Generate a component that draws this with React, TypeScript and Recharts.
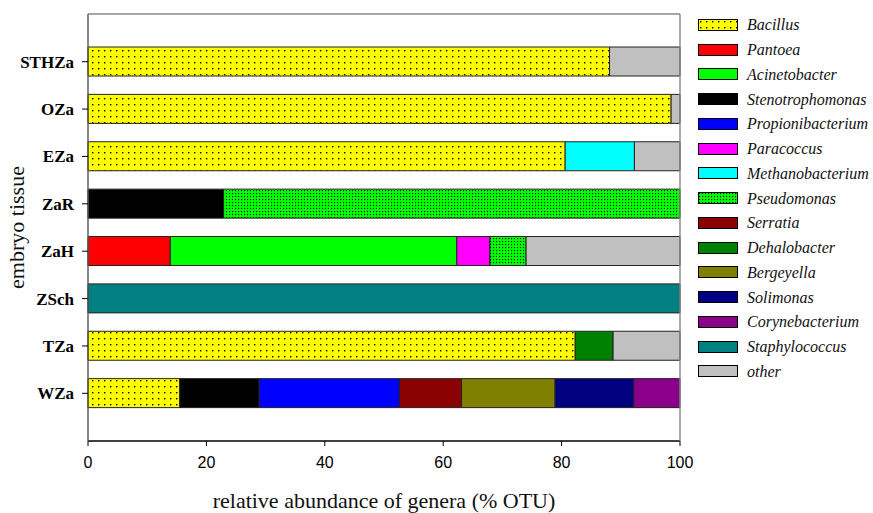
import { BarChart, Bar, XAxis, YAxis, Legend } from 'recharts';

const tissues = ['STHZa', 'OZa', 'EZa', 'ZaR', 'ZaH', 'ZSch', 'TZa', 'WZa'];

const genera = [
  'Bacillus',
  'Pantoea',
  'Acinetobacter',
  'Stenotrophomonas',
  'Propionibacterium',
  'Paracoccus',
  'Methanobacterium',
  'Pseudomonas',
  'Serratia',
  'Dehalobacter',
  'Bergeyella',
  'Solimonas',
  'Corynebacterium',
  'Staphylococcus',
  'other',
];

// % OTU per tissue, same order as tissues
const bacillus = [88.1, 98.5, 80.6, 0, 0, 0, 82.3, 15.5];
const pantoea = [0, 0, 0, 0, 13.9, 0, 0, 0];
const acinetobacter = [0, 0, 0, 0, 48.4, 0, 0, 0];
const stenotrophomonas = [0, 0, 0, 22.9, 0, 0, 0, 13.4];
const propionibacterium = [0, 0, 0, 0, 0, 0, 0, 23.7];
const paracoccus = [0, 0, 0, 0, 5.6, 0, 0, 0];
const methanobacterium = [0, 0, 11.7, 0, 0, 0, 0, 0];
const pseudomonas = [0, 0, 0, 77.1, 6.1, 0, 0, 0];
const serratia = [0, 0, 0, 0, 0, 0, 0, 10.5];
const dehalobacter = [0, 0, 0, 0, 0, 0, 6.4, 0];
const bergeyella = [0, 0, 0, 0, 0, 0, 0, 15.8];
const solimonas = [0, 0, 0, 0, 0, 0, 0, 13.3];
const corynebacterium = [0, 0, 0, 0, 0, 0, 0, 7.8];
const staphylococcus = [0, 0, 0, 0, 0, 100, 0, 0];
const other = [11.9, 1.5, 7.7, 0, 26.0, 0, 11.3, 0];

const seriesValues = [
  bacillus,
  pantoea,
  acinetobacter,
  stenotrophomonas,
  propionibacterium,
  paracoccus,
  methanobacterium,
  pseudomonas,
  serratia,
  dehalobacter,
  bergeyella,
  solimonas,
  corynebacterium,
  staphylococcus,
  other,
];

const xTicks = [0, 20, 40, 60, 80, 100];

const fills: Record<string, string> = {
  Bacillus: 'url(#bacillusDots)',
  Pantoea: '#ff0000',
  Acinetobacter: '#00ff00',
  Stenotrophomonas: '#000000',
  Propionibacterium: '#0000ff',
  Paracoccus: '#ff00ff',
  Methanobacterium: '#00ffff',
  Pseudomonas: 'url(#pseudomonasDots)',
  Serratia: '#8b0000',
  Dehalobacter: '#008000',
  Bergeyella: '#808000',
  Solimonas: '#000080',
  Corynebacterium: '#8b008b',
  Staphylococcus: '#008080',
  other: '#c0c0c0',
};

const data = tissues.map((tissue, i) => {
  const row: Record<string, string | number> = { tissue };
  genera.forEach((g, k) => {
    row[g] = seriesValues[k][i];
  });
  return row;
});

const serif = '"Liberation Serif", "DejaVu Serif", serif';

function Patterns() {
  return (
    <svg width={0} height={0} style={{ position: 'absolute' }}>
      <defs>
        <pattern id="bacillusDots" patternUnits="userSpaceOnUse" width={6} height={6}>
          <rect width={6} height={6} fill="#ffff00" />
          <rect x={2} y={2} width={1.4} height={1.4} fill="#000" />
        </pattern>
        <pattern id="pseudomonasDots" patternUnits="userSpaceOnUse" width={3} height={3}>
          <rect width={3} height={3} fill="#00ff00" />
          <rect x={1} y={1} width={1.1} height={1.1} fill="#000" />
        </pattern>
      </defs>
    </svg>
  );
}

function LegendBox() {
  return (
    <div style={{ width: 175, overflow: 'hidden' }}>
      {genera.map((g) => (
        <div
          key={g}
          style={{ height: 24.75, display: 'flex', alignItems: 'center', whiteSpace: 'nowrap' }}
        >
          <svg width={40} height={13} style={{ flex: 'none' }}>
            <rect x={0.5} y={0.5} width={39} height={11} fill={fills[g]} stroke="#000" strokeWidth={1} />
          </svg>
          <span
            style={{
              marginLeft: 9,
              fontFamily: serif,
              fontStyle: 'italic',
              fontSize: 16,
              color: '#111',
            }}
          >
            {g}
          </span>
        </div>
      ))}
    </div>
  );
}

function YTitle(props: any) {
  const { viewBox } = props;
  const cx = viewBox.x + 24;
  const cy = viewBox.y + viewBox.height / 2;
  return (
    <text
      x={cx}
      y={cy}
      transform={`rotate(-90 ${cx} ${cy})`}
      textAnchor="middle"
      fontFamily={serif}
      fontSize={22}
      fill="#111"
    >
      embryo tissue
    </text>
  );
}

function XTitle(props: any) {
  const { viewBox } = props;
  return (
    <text
      x={viewBox.x + viewBox.width / 2}
      y={viewBox.y + viewBox.height - 5}
      textAnchor="middle"
      fontFamily={serif}
      fontSize={22}
      fill="#111"
    >
      relative abundance of genera (% OTU)
    </text>
  );
}

export default function App() {
  return (
    <div style={{ position: 'absolute', left: 0, top: 0, background: '#fff' }}>
      <Patterns />
      <BarChart
        width={873}
        height={513}
        data={data}
        layout="vertical"
        margin={{ top: 13, right: 192, bottom: 0, left: 0 }}
      >
        <XAxis
          type="number"
          domain={[0, 100]}
          ticks={xTicks}
          height={72}
          tickSize={5}
          tickMargin={11}
          axisLine={{ stroke: '#000', strokeWidth: 1.4 }}
          tickLine={{ stroke: '#000' }}
          tick={{ fill: '#000', fontSize: 16, fontFamily: '"Liberation Sans", Arial, sans-serif' }}
          label={{ content: XTitle }}
        />
        <XAxis
          xAxisId="top"
          orientation="top"
          type="number"
          domain={[0, 100]}
          height={1}
          tick={false}
          tickLine={false}
          axisLine={{ stroke: '#888', strokeWidth: 1.4 }}
        />
        <YAxis
          type="category"
          dataKey="tissue"
          width={88}
          padding={{ top: 24, bottom: 24 }}
          tickSize={6}
          tickMargin={8}
          axisLine={{ stroke: '#555', strokeWidth: 1.4 }}
          tickLine={{ stroke: '#000' }}
          tick={{ fill: '#000', fontSize: 17, fontWeight: 'bold', fontFamily: serif }}
          label={{ content: YTitle }}
        />
        <YAxis
          yAxisId="right"
          orientation="right"
          type="category"
          dataKey="tissue"
          width={1}
          tick={false}
          tickLine={false}
          axisLine={{ stroke: '#888', strokeWidth: 1.4 }}
        />
        <Legend
          layout="vertical"
          align="center"
          verticalAlign="middle"
          wrapperStyle={{ left: 698, top: 13, width: 175 }}
          content={() => <LegendBox />}
        />
        {genera.map((g) => (
          <Bar
            key={g}
            dataKey={g}
            stackId="a"
            fill={fills[g]}
            stroke="#222"
            strokeWidth={1}
            barSize={29}
            isAnimationActive={false}
          />
        ))}
      </BarChart>
    </div>
  );
}
